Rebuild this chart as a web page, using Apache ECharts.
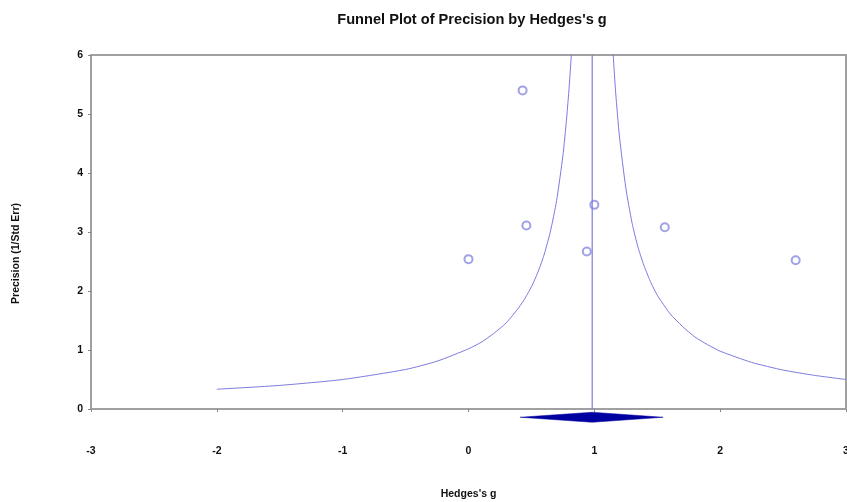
<!DOCTYPE html>
<html>
<head>
<meta charset="utf-8">
<script src="https://cdn.jsdelivr.net/npm/echarts@6/dist/echarts.min.js"></script>
<style>html,body{margin:0;padding:0;background:#fff}#c{width:847px;height:502px}</style>
</head>
<body>
<div id="c"></div>
<script>
// Study effects (Hedges's g) and precision (1/SE)
const studyG = [0.43, 0.46, 0.00, 0.94, 1.00, 1.56, 2.60];
const studyPrecision = [5.40, 3.11, 2.54, 2.67, 3.46, 3.08, 2.52];
// Funnel boundaries
const leftFunnelG = [-2.0, -1.5, -1.0, -0.5, -0.25, 0.0, 0.1, 0.2, 0.3, 0.4, 0.45, 0.5, 0.55, 0.6, 0.65, 0.7, 0.75, 0.78, 0.8, 0.817, 0.833];
const leftFunnelP = [0.335, 0.40, 0.50, 0.67, 0.81, 1.02, 1.13, 1.28, 1.46, 1.72, 1.88, 2.07, 2.31, 2.61, 3.00, 3.53, 4.29, 4.93, 5.46, 6.0, 6.7];
const rightFunnelG = [1.13, 1.15, 1.17, 1.2, 1.25, 1.3, 1.35, 1.4, 1.45, 1.5, 1.6, 1.7, 1.8, 1.9, 2.0, 2.25, 2.5, 2.75, 3.0];
const rightFunnelP = [6.8, 6.0, 5.35, 4.61, 3.75, 3.15, 2.72, 2.40, 2.14, 1.93, 1.62, 1.40, 1.22, 1.09, 0.98, 0.79, 0.66, 0.57, 0.50];
// Summary effect and diamond
const meanG = 0.983;
const diamondLow = 0.41;
const diamondHigh = 1.547;
const diamondY = -0.14;
const diamondHalfHeight = 0.085;
const xTicks = [-3, -2, -1, 0, 1, 2, 3];
const yTicks = [0, 1, 2, 3, 4, 5, 6];

const lineColor = '#7b7be0';
const pointColor = '#8a8ae0';
const font = '"Liberation Sans", Arial, sans-serif';
const chart = echarts.init(document.getElementById('c'), null, {renderer: 'canvas'});
chart.setOption({
  animation: false,
  backgroundColor: '#fff',
  title: {
    text: "Funnel Plot of Precision by Hedges's g",
    left: 467, top: 7, textAlign: 'center',
    textStyle: {fontFamily: font, fontSize: 14.6, fontWeight: 'bold', color: '#111'}
  },
  grid: {left: 91, right: 1, top: 55, bottom: 93, containLabel: false, outerBoundsMode: 'none',
    show: true, borderColor: '#a0a0a0', borderWidth: 2, backgroundColor: 'transparent'},
  xAxis: {
    type: 'value', min: xTicks[0], max: xTicks[xTicks.length - 1], interval: 1,
    axisLine: {show: true, onZero: false, lineStyle: {color: '#a0a0a0', width: 2}},
    axisTick: {show: true, inside: false, length: 3, lineStyle: {color: '#888'}},
    axisLabel: {margin: 37, fontFamily: font, fontSize: 10.5, fontWeight: 'bold', color: '#111',
      formatter: v => String(v)},
    splitLine: {show: false},
    name: "Hedges's g", nameLocation: 'middle', nameGap: 80,
    nameTextStyle: {fontFamily: font, fontSize: 10.5, fontWeight: 'bold', color: '#111'}
  },
  yAxis: {
    type: 'value', min: yTicks[0], max: yTicks[yTicks.length - 1], interval: 1,
    axisLine: {show: true, onZero: false, lineStyle: {color: '#a0a0a0', width: 2}},
    axisTick: {show: true, length: 3, lineStyle: {color: '#888'}},
    axisLabel: {margin: 8, fontFamily: font, fontSize: 10.5, fontWeight: 'bold', color: '#111'},
    splitLine: {show: false}
  },
  graphic: [{
    type: 'text', left: 11, top: 203, rotation: Math.PI / 2,
    style: {text: 'Precision (1/Std Err)', font: 'bold 10.5px ' + font, fill: '#111'},
    originX: 0, originY: 0
  }],
  series: [
    {
      type: 'line', data: leftFunnelG.map((g, i) => [g, leftFunnelP[i]]), showSymbol: false,
      smooth: 0.2, clip: true, lineStyle: {color: lineColor, width: 1}
    },
    {
      type: 'line', data: rightFunnelG.map((g, i) => [g, rightFunnelP[i]]), showSymbol: false,
      smooth: 0.2, clip: true, lineStyle: {color: lineColor, width: 1}
    },
    {
      type: 'line', data: [[meanG, 0], [meanG, 6]], showSymbol: false,
      lineStyle: {color: lineColor, width: 1.2}
    },
    {
      type: 'scatter', data: studyG.map((g, i) => [g, studyPrecision[i]]),
      symbol: 'emptyCircle', symbolSize: 8,
      itemStyle: {color: pointColor, borderColor: pointColor, borderWidth: 1}
    },
    {
      type: 'custom', clip: false,
      data: [[diamondLow, meanG, diamondHigh, diamondY, diamondHalfHeight]],
      renderItem: function (params, api) {
        const l = api.coord([api.value(0), api.value(3)]);
        const m = api.coord([api.value(1), api.value(3)]);
        const r = api.coord([api.value(2), api.value(3)]);
        const t = api.coord([api.value(1), api.value(3) + api.value(4)]);
        const b = api.coord([api.value(1), api.value(3) - api.value(4)]);
        return {type: 'polygon', shape: {points: [l, [m[0], t[1]], r, [m[0], b[1]]]},
          style: {fill: '#0000a0', stroke: '#0000a0', lineWidth: 0.5}};
      }
    }
  ]
});
</script>
</body>
</html>
